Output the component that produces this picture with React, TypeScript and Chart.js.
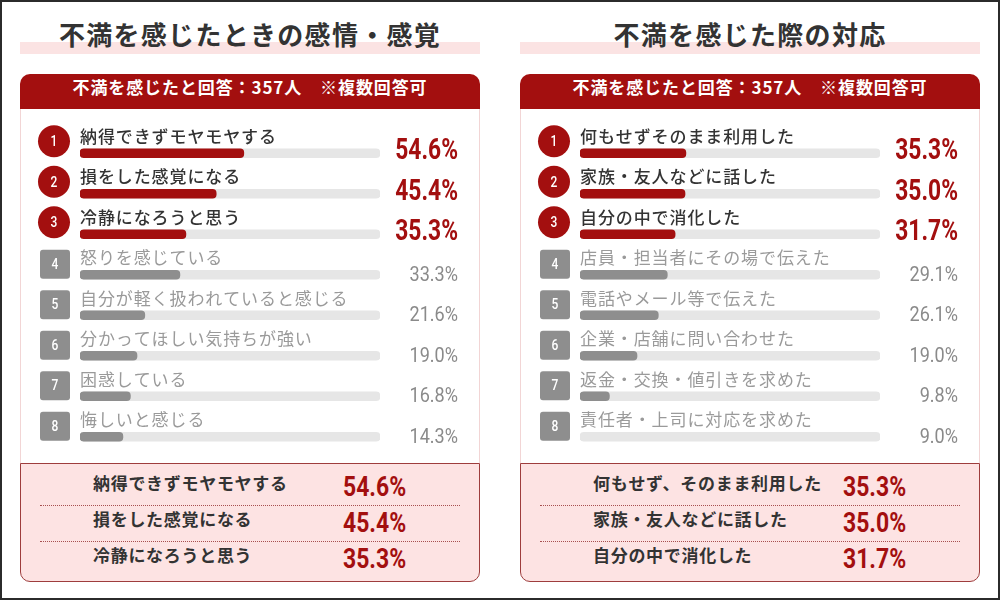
import { useEffect, useRef } from 'react';
import { Chart, registerables } from 'chart.js';

Chart.register(...registerables);

const headerNote = '不満を感じたと回答：357人　※複数回答可';

const leftTitle = '不満を感じたときの感情・感覚';
const leftLabels = [
    '納得できずモヤモヤする',
    '損をした感覚になる',
    '冷静になろうと思う',
    '怒りを感じている',
    '自分が軽く扱われていると感じる',
    '分かってほしい気持ちが強い',
    '困惑している',
    '悔しいと感じる',
];
const leftValues = [54.6, 45.4, 35.3, 33.3, 21.6, 19.0, 16.8, 14.3];
const leftSummary = ['納得できずモヤモヤする', '損をした感覚になる', '冷静になろうと思う'];

const rightTitle = '不満を感じた際の対応';
const rightLabels = [
    '何もせずそのまま利用した',
    '家族・友人などに話した',
    '自分の中で消化した',
    '店員・担当者にその場で伝えた',
    '電話やメール等で伝えた',
    '企業・店舗に問い合わせた',
    '返金・交換・値引きを求めた',
    '責任者・上司に対応を求めた',
];
const rightValues = [35.3, 35.0, 31.7, 29.1, 26.1, 19.0, 9.8, 9.0];
// bars as they appear in the source picture (the last one is not drawn there)
const rightBarValues = [35.3, 35.0, 31.7, 29.1, 26.1, 19.0, 9.8, null];
const rightSummary = ['何もせず、そのまま利用した', '家族・友人などに話した', '自分の中で消化した'];

const RED = '#a30f0f';
const GRAY = '#8e8e8e';
const TRACK = '#e6e6e6';
const JP = '"Noto Sans CJK JP", "Noto Sans", sans-serif';
const NUM = 'Roboto, "Noto Sans", sans-serif';

interface IRankChart {
    labels: string[];
    values: number[];
    barValues: (number | null)[];
}

const RankChart = ({ labels, values, barValues }: IRankChart) => {
    const chartRef = useRef<HTMLCanvasElement | null>(null);
    const chartInstanceRef = useRef<Chart | null>(null);

    useEffect(() => {
        if (!chartRef.current) return;
        if (chartInstanceRef.current) chartInstanceRef.current.destroy();

        const decor = {
            id: 'rankDecor',
            afterDatasetsDraw(chart: any) {
                const ctx = chart.ctx as CanvasRenderingContext2D;
                const yScale = chart.scales.y;
                labels.forEach((label, i) => {
                    const cy = yScale.getPixelForValue(i);
                    const top = i < 3;
                    ctx.save();
                    // rank badge
                    ctx.fillStyle = top ? RED : GRAY;
                    ctx.beginPath();
                    if (top) {
                        ctx.arc(34, cy - 12, 16, 0, Math.PI * 2);
                    } else {
                        ctx.roundRect(20, cy - 25, 30, 29, 3);
                    }
                    ctx.fill();
                    ctx.fillStyle = '#fff';
                    ctx.textAlign = 'center';
                    ctx.textBaseline = 'middle';
                    ctx.font = `500 15px ${NUM}`;
                    ctx.save();
                    ctx.translate(top ? 34 : 35, top ? cy - 11 : cy - 10);
                    ctx.scale(0.8, 1);
                    ctx.fillText(String(i + 1), 0, 0);
                    ctx.restore();

                    // label
                    ctx.textAlign = 'left';
                    ctx.textBaseline = 'middle';
                    ctx.fillStyle = top ? '#333' : '#9a9a9a';
                    ctx.font = `${top ? 500 : 400} 17px ${JP}`;
                    (ctx as any).letterSpacing = '0.9px';
                    ctx.fillText(label, chart.chartArea.left, cy - 17);
                    (ctx as any).letterSpacing = '0px';

                    // percentage
                    ctx.textAlign = 'right';
                    ctx.textBaseline = 'alphabetic';
                    ctx.fillStyle = top ? RED : '#8a8a8a';
                    ctx.font = top ? `700 30px ${NUM}` : `400 21px ${NUM}`;
                    ctx.translate(438, cy + 6);
                    ctx.scale(top ? 0.76 : 0.86, 1);
                    ctx.fillText(values[i].toFixed(1) + '%', 0, 0);
                    ctx.restore();
                });
            },
        };

        chartInstanceRef.current = new Chart(chartRef.current, {
            type: 'bar',
            data: {
                labels,
                datasets: [
                    {
                        label: 'value',
                        data: barValues,
                        backgroundColor: labels.map((_, i) => (i < 3 ? RED : GRAY)),
                        barThickness: 9,
                        borderRadius: 4,
                        borderSkipped: false,
                        grouped: false,
                        order: 1,
                    },
                    {
                        label: 'track',
                        data: labels.map(() => 100),
                        backgroundColor: TRACK,
                        barThickness: 9,
                        borderRadius: 4,
                        borderSkipped: false,
                        grouped: false,
                        order: 2,
                    },
                ],
            },
            options: {
                indexAxis: 'y',
                animation: false,
                responsive: true,
                maintainAspectRatio: false,
                layout: { padding: { left: 60, right: 100, top: 24, bottom: 6 } },
                scales: {
                    x: { display: false, min: 0, max: 100 },
                    y: { display: false },
                },
                plugins: {
                    legend: { display: false },
                    tooltip: { enabled: false },
                },
            },
            plugins: [decor],
        });

        return () => {
            if (chartInstanceRef.current) {
                chartInstanceRef.current.destroy();
                chartInstanceRef.current = null;
            }
        };
    }, [labels, values, barValues]);

    return <canvas ref={chartRef}></canvas>;
};

interface IPanel {
    x: number;
    title: string;
    labels: string[];
    values: number[];
    barValues: (number | null)[];
    summary: string[];
}

const Panel = ({ x, title, labels, values, barValues, summary }: IPanel) => (
    <div style={{ position: 'absolute', left: x, top: 0, width: 500, height: 600 }}>
        <div style={{ position: 'absolute', left: 20, top: 40, width: 460, height: 12, background: '#fbe3e3' }} />
        <div
            style={{
                position: 'absolute',
                left: 20,
                top: 13,
                width: 460,
                lineHeight: '40px',
                textAlign: 'center',
                font: `700 26px ${JP}`,
                letterSpacing: '1.3px',
                color: '#333',
            }}
        >
            {title}
        </div>
        <div
            style={{
                position: 'absolute',
                left: 20,
                top: 72,
                width: 460,
                height: 35,
                background: RED,
                borderRadius: '10px 10px 0 0',
                color: '#fff',
                textAlign: 'center',
                lineHeight: '35px',
                font: `700 17px ${JP}`,
                letterSpacing: '0.9px',
            }}
        >
            {headerNote}
        </div>
        <div
            style={{
                position: 'absolute',
                left: 20,
                top: 107,
                width: 460,
                height: 354,
                boxSizing: 'border-box',
                borderLeft: '1.5px solid #f2d5d5',
                borderRight: '1.5px solid #f2d5d5',
                background: '#fff',
            }}
        />
        <div style={{ position: 'absolute', left: 20, top: 107, width: 460, height: 354 }}>
            <RankChart labels={labels} values={values} barValues={barValues} />
        </div>
        <div
            style={{
                position: 'absolute',
                left: 20,
                top: 461,
                width: 460,
                height: 119,
                boxSizing: 'border-box',
                background: '#fde3e3',
                border: '1px solid #9e3d3d',
                borderRadius: '0 0 10px 10px',
            }}
        >
            {summary.map((s, i) => (
                <div key={s} style={{ position: 'absolute', left: 0, top: 6 + 36 * i, width: 458, height: 36 }}>
                    <span
                        style={{
                            position: 'absolute',
                            left: 72,
                            top: 0,
                            lineHeight: '36px',
                            font: `700 17px ${JP}`,
                            letterSpacing: '0.7px',
                            color: '#333',
                            whiteSpace: 'nowrap',
                        }}
                    >
                        {s}
                    </span>
                    <span
                        style={{
                            position: 'absolute',
                            left: 322,
                            top: 0,
                            lineHeight: '36px',
                            font: `700 28px ${NUM}`,
                            color: RED,
                            transform: 'scaleX(0.82)',
                            transformOrigin: 'left center',
                            whiteSpace: 'nowrap',
                        }}
                    >
                        {values[i].toFixed(1)}%
                    </span>
                    {i < 2 && (
                        <div
                            style={{
                                position: 'absolute',
                                left: 19,
                                top: 35,
                                width: 420,
                                borderTop: '1.5px dotted #a85050',
                            }}
                        />
                    )}
                </div>
            ))}
        </div>
    </div>
);

const App = () => (
    <div
        style={{
            position: 'absolute',
            left: 0,
            top: 0,
            width: 1000,
            height: 600,
            boxSizing: 'border-box',
            border: '2px solid #2b2b2b',
            background: '#fff',
            overflow: 'hidden',
        }}
    >
        <Panel x={-2} title={leftTitle} labels={leftLabels} values={leftValues} barValues={leftValues} summary={leftSummary} />
        <Panel x={498} title={rightTitle} labels={rightLabels} values={rightValues} barValues={rightBarValues} summary={rightSummary} />
    </div>
);

export default App;
